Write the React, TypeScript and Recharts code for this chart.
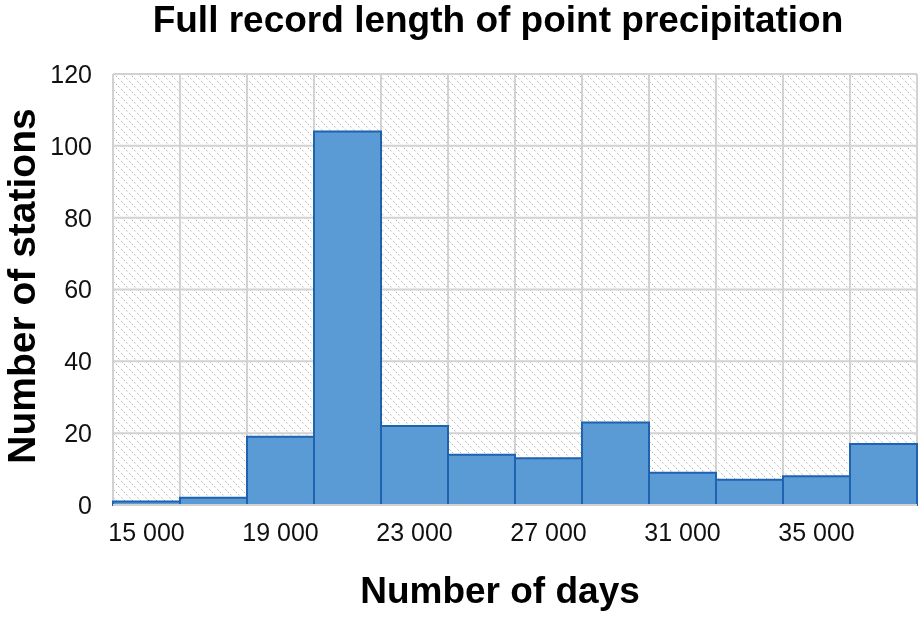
import React from 'react';
import { BarChart, Bar, XAxis, YAxis, CartesianGrid } from 'recharts';

// bin centres (days) and station counts per 2000-day bin
const binCentres = [15000, 17000, 19000, 21000, 23000, 25000, 27000, 29000, 31000, 33000, 35000, 37000];
const stationCounts = [1, 2, 19, 104, 22, 14, 13, 23, 9, 7, 8, 17];
const yTicks = [0, 20, 40, 60, 80, 100, 120];
const binWidth = 2000;

const data = binCentres.map((c, i) => ({ centre: c, count: stationCounts[i] }));
const binEdges = [...binCentres.map((c) => c - binWidth / 2), binCentres[binCentres.length - 1] + binWidth / 2];

const fmtDays = (v: number) => String(v).replace(/\B(?=(\d{3})+(?!\d))/g, ' ');

const font = '"Liberation Sans", Arial, sans-serif';

export default function App() {
  return (
    <div style={{ position: 'fixed', left: 0, top: 0, width: 918, height: 617, background: '#fff', fontFamily: font }}>
      <div style={{ position: 'absolute', left: 0, width: 996, top: 4, lineHeight: '31px', textAlign: 'center', fontSize: 37, fontWeight: 700, color: '#000', letterSpacing: 0 }}>
        Full record length of point precipitation
      </div>
      <div
        style={{
          position: 'absolute', left: 22, top: 286, transform: 'translate(-50%, -50%) rotate(-90deg)',
          whiteSpace: 'nowrap', fontSize: 39, fontWeight: 700, color: '#000',
        }}
      >
        Number of stations
      </div>
      <div style={{ position: 'absolute', left: 0, width: 1000, top: 570, textAlign: 'center', fontSize: 37, fontWeight: 700, color: '#000' }}>
        Number of days
      </div>
      <BarChart
        width={918}
        height={617}
        data={data}
        margin={{ top: 74, right: 1, bottom: 82, left: 0 }}
        barCategoryGap={0}
        barGap={0}
        style={{ position: 'absolute', left: 0, top: 0 }}
      >
        <defs>
          <pattern id="hatch" width="8" height="8" patternUnits="userSpaceOnUse">
            <path d="M-1,-1 L9,9 M-1,7 L1,9 M7,-1 L9,1" stroke="#a8a8a8" strokeWidth="1" strokeDasharray="1.6 1.8" />
          </pattern>
        </defs>
        <XAxis xAxisId="grid" type="number" dataKey="centre" domain={[binEdges[0], binEdges[binEdges.length - 1]]} ticks={binEdges} hide />
        <CartesianGrid xAxisId="grid" stroke="#d2d2d2" strokeWidth={2} fill="url(#hatch)" fillOpacity={1} />
        <XAxis
          dataKey="centre"
          interval={1}
          tickFormatter={fmtDays}
          tickLine={false}
          tickSize={6}
          tickMargin={12}
          axisLine={{ stroke: '#d2d2d2', strokeWidth: 2 }}
          tick={{ fontSize: 25, fill: '#111', fontFamily: font }}
        />
        <YAxis
          width={113}
          domain={[0, 120]}
          ticks={yTicks}
          tickLine={false}
          axisLine={false}
          tickSize={6}
          tickMargin={15}
          tick={{ fontSize: 25, fill: '#111', fontFamily: font }}
        />
        <Bar dataKey="count" fill="#5b9bd5" stroke="#1f63b0" strokeWidth={2} isAnimationActive={false} />
      </BarChart>
    </div>
  );
}
